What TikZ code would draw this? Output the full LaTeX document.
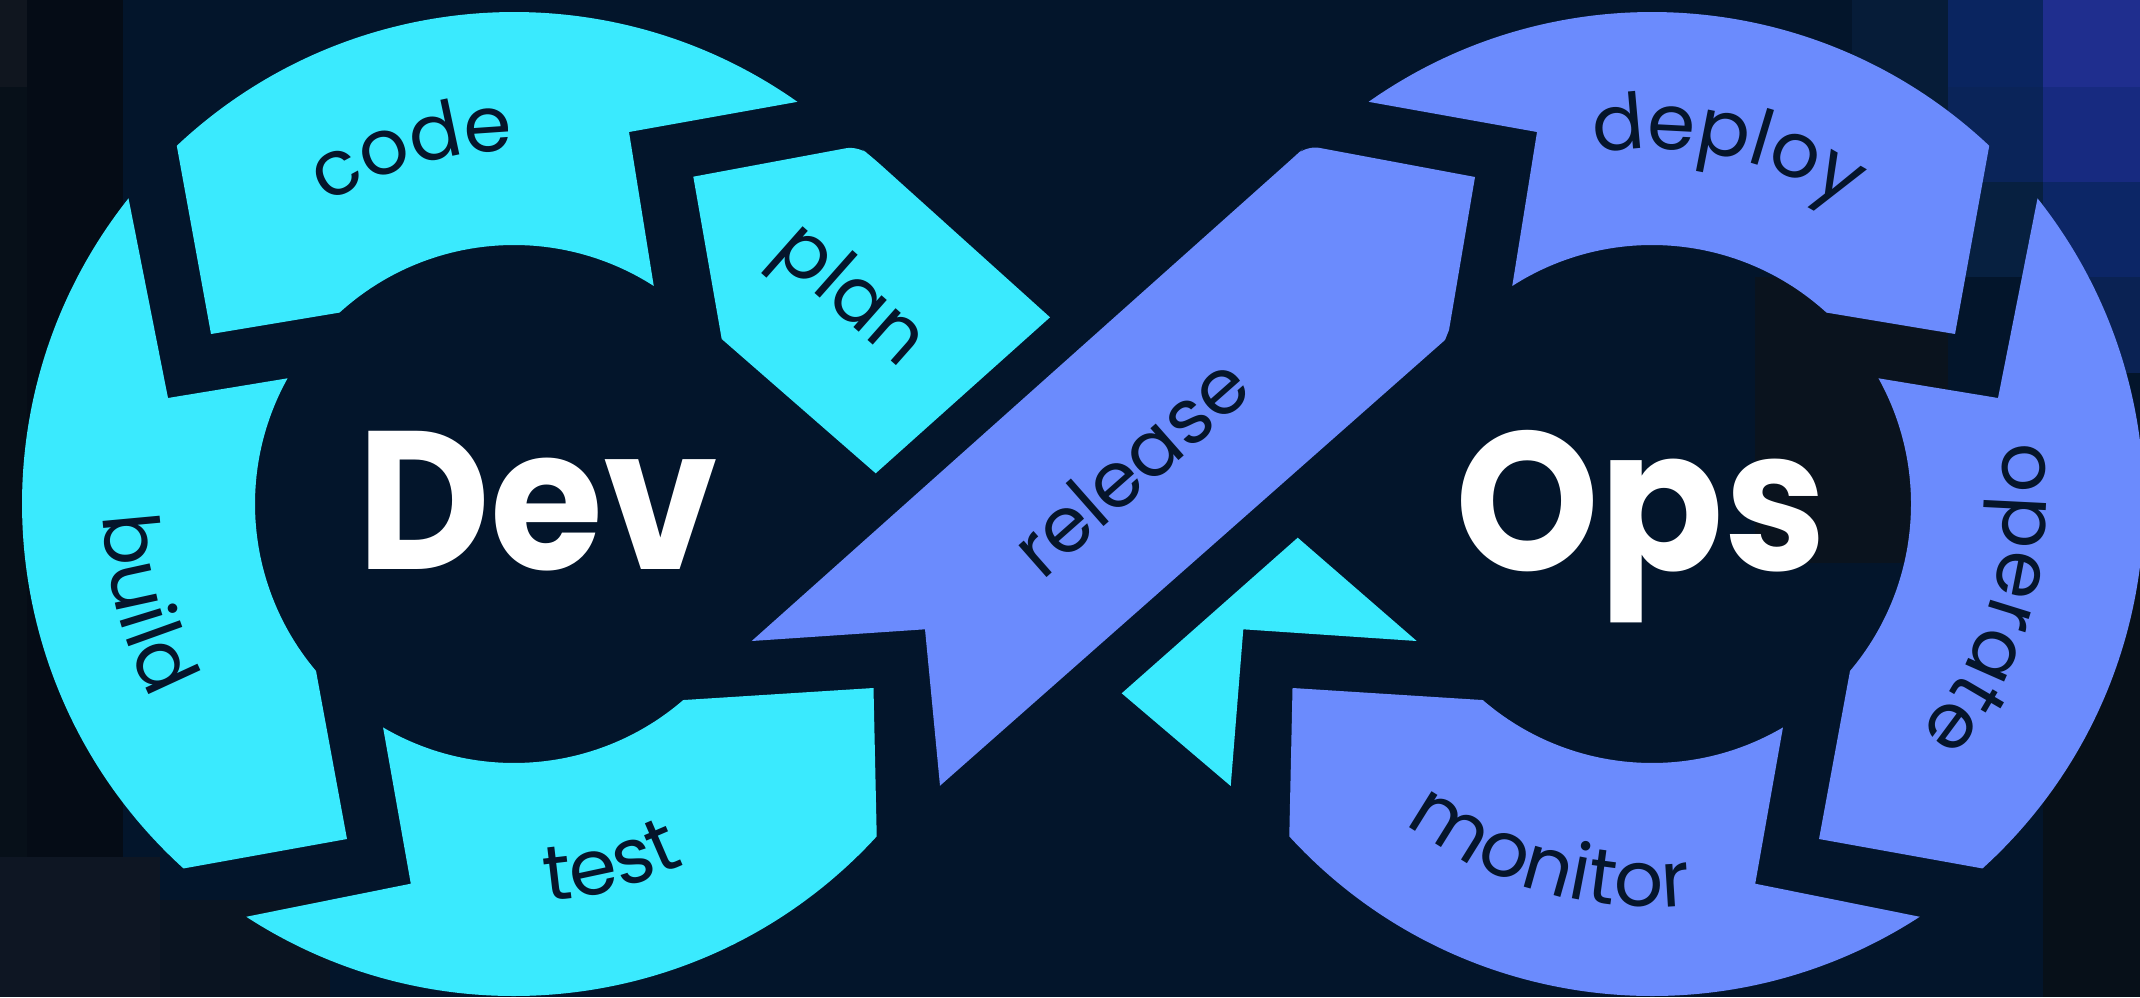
\documentclass[tikz,border=0pt]{standalone}
\usepackage{fontspec}
\setmainfont{Poppins}
\usetikzlibrary{decorations.text}
\definecolor{bg}{RGB}{3,21,43}
\definecolor{cyanc}{RGB}{58,234,254}
\definecolor{peri}{RGB}{107,139,253}
\definecolor{ink}{RGB}{5,21,43}
\definecolor{tA}{HTML}{0A2560}
\definecolor{tB}{HTML}{1F2E8E}
\definecolor{tC}{HTML}{0A2459}
\definecolor{tD}{HTML}{172A80}
\definecolor{tE}{HTML}{0C2666}
\definecolor{tF}{HTML}{072040}
\definecolor{tG}{HTML}{061C38}
\definecolor{tH}{HTML}{0A2253}
\definecolor{tDark}{HTML}{0A131E}
\definecolor{tL1}{HTML}{050C16}
\definecolor{tL2}{HTML}{071019}
\definecolor{tL3}{HTML}{10161F}
\definecolor{tL4}{HTML}{0E1623}
\definecolor{tL5}{HTML}{0A1421}
\newcommand\labfont{\fontsize{22}{26}\selectfont}
\newcommand\bigfont{\bfseries\fontsize{56}{60}\selectfont}
\newcommand\loopsegs[1]{%
  % code / deploy
  \fill[#1] ([shift={(514,504)}]-133.27:492) arc[start angle=-133.27,end angle=-54.83,radius=492]
     -- (629,132) -- ([shift={(514,504)}]-57.34:259) arc[start angle=-57.34,end angle=-132.35,radius=259]
     -- (211,334) -- cycle;
  % build / operate
  \fill[#1] ([shift={(514,504)}]-141.59:492) arc[start angle=-141.59,end angle=-227.8,radius=492]
     -- (347,839) -- ([shift={(514,504)}]-220.14:259) arc[start angle=-220.14,end angle=-150.97,radius=259]
     -- (168,398) -- cycle;
  % test / monitor
  \fill[#1] ([shift={(514,504)}]122.97:492) arc[start angle=122.97,end angle=42.5,radius=492]
     -- (873.5,688) -- ([shift={(514,504)}]49.2:259) arc[start angle=49.2,end angle=120.37,radius=259]
     -- (410.8,883.7) -- cycle;
}
\tikzset{
  lab/.style={text=ink,font=\labfont,inner sep=0pt},
  big/.style={text=white,font=\bigfont,inner sep=0pt,anchor=base,xscale=0.93},
  arclab/.style={decorate,decoration={text along path,text align=center,text color=ink,text={|\labfont|#1}}},
}
\begin{document}
\begin{tikzpicture}[x=0.01cm,y=-0.01cm]
\useasboundingbox (0,0) rectangle (2140,997);
\fill[bg] (0,0) rectangle (2140,997);
% background mosaic
\fill[tL1] (27,0) rectangle (123,997);
\fill[tL2] (0,87) rectangle (27,997);
\fill[tL3] (0,0) rectangle (27,87);
\fill[tL4] (0,857) rectangle (160,997);
\fill[tL5] (160,900) rectangle (330,997);
\fill[tG] (1852,0) rectangle (1948,182);
\fill[tA] (1948,0) rectangle (2043,87);
\fill[tB] (2043,0) rectangle (2140,87);
\fill[tC] (1948,87) rectangle (2043,182);
\fill[tD] (2043,87) rectangle (2140,182);
\fill[tF] (1948,182) rectangle (2043,277);
\fill[tE] (2043,182) rectangle (2140,277);
\fill[tH] (2043,277) rectangle (2140,373);
\fill[tDark] (1755,277) rectangle (1948,563);
\fill[tL2] (2043,563) rectangle (2140,997);
% left loop (cyan) and right loop (mirror, periwinkle)
\loopsegs{cyanc}
\begin{scope}[shift={(2166,0)},xscale=-1]
  \loopsegs{peri}
\end{scope}
% plan piece and cyan arrow head (band passing under release)
\fill[cyanc] (721.7,339) -- (693.3,176.7) -- (842,149) [rounded corners=0.12cm] -- (858,146) -- (872,157) [sharp corners] -- (1050,317.3) -- (875.7,473.3) -- cycle;
\fill[cyanc] (1121.7,693.3) -- (1297.7,537.7) -- (1416.7,641) -- (1243.3,629.3) -- (1230.7,786) -- cycle;
% release band
\fill[peri] (751.7,641) -- (925,629.3) -- (940,785.7) -- (1445,340) -- (1449,330) -- (1475,177)
   -- (1320,148) [rounded corners=0.12cm] -- (1306,146) -- (1294,157) [sharp corners] -- cycle;
% curved labels
\path[arclab=code] ([shift={(514,504)}]-146:353) arc[start angle=-146,end angle=-66,radius=353];
\path[arclab=build] ([shift={(514,504)}]205:411) arc[start angle=205,end angle=125,radius=411];
\path[arclab=test] ([shift={(514,504)}]115:399) arc[start angle=115,end angle=35,radius=399];
\path[arclab=deploy] ([shift={(1652,504)}]-118:355) arc[start angle=-118,end angle=-38,radius=355];
\path[arclab=operate] ([shift={(1652,504)}]-24.5:352) arc[start angle=-24.5,end angle=55.5,radius=352];
\path[arclab=monitor] ([shift={(1652,504)}]146:403) arc[start angle=146,end angle=66,radius=403];
% straight labels
\node[lab,rotate=-41.5] (plan) at (848,298) {plan};
\node[lab,rotate=41.4] (release) at (1130,466) {release};
% big titles
\node[big] (dev) at (537.5,569) {Dev};
\node[big] (ops) at (1641,570) {Ops};
\end{tikzpicture}
\end{document}
